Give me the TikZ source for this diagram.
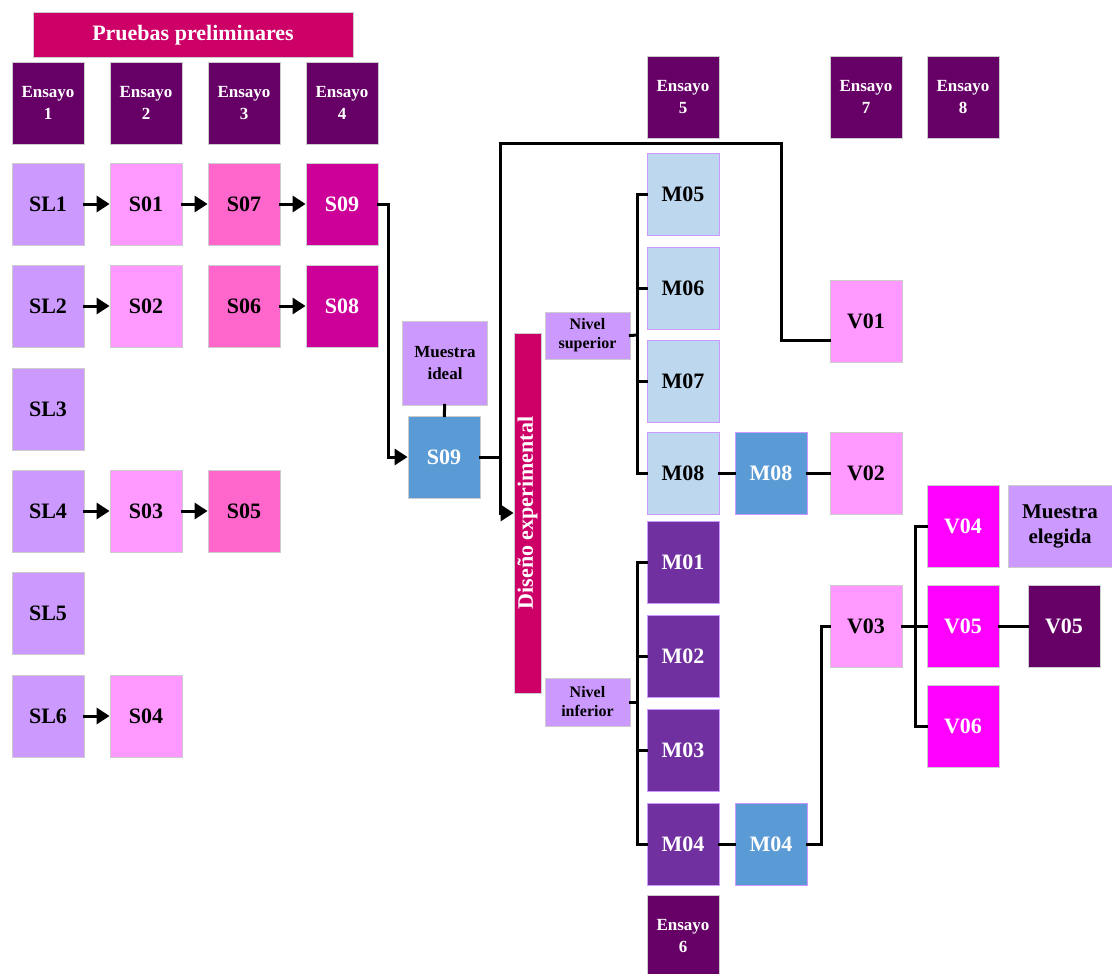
\documentclass[tikz,border=0pt]{standalone}
\usepackage{fontspec}
\setmainfont{Liberation Serif}
\usetikzlibrary{arrows.meta}

% Colores
\definecolor{carmin}{HTML}{CC0066}
\definecolor{uva}{HTML}{660066}
\definecolor{lila}{HTML}{CC99FF}
\definecolor{rosaclaro}{HTML}{FF99FF}
\definecolor{rosa}{HTML}{FF66CC}
\definecolor{fucsia}{HTML}{CC0099}
\definecolor{azul}{HTML}{5B9BD5}
\definecolor{celeste}{HTML}{BDD7EE}
\definecolor{violeta}{HTML}{7030A0}
\definecolor{magenta2}{HTML}{FF00FF}

\tikzset{
  caja/.style={draw=black!20, line width=0.8pt, minimum width=72pt, minimum height=82pt,
    inner sep=1pt, align=center, font=\bfseries\fontsize{22}{24}\selectfont},
  ensayo/.style={caja, fill=uva, text=white, font=\bfseries\fontsize{17}{22}\selectfont},
  mcaja/.style={caja, draw=lila},
  linea/.style={line width=3pt, line cap=rect},
  flecha/.style={linea, -{Triangle[length=13pt,width=16pt]}}
}

\begin{document}
\begin{tikzpicture}[x=1pt, y=-1pt]
    \useasboundingbox (0,0) rectangle (1112,974);

    % Pruebas preliminares
    \node[caja, fill=carmin, text=white, minimum width=320pt, minimum height=45pt] (prue) at (193,35) {Pruebas preliminares};
    \node[ensayo] (e1) at (48,103) {Ensayo\\1};
    \node[ensayo] (e2) at (146,103) {Ensayo\\2};
    \node[ensayo] (e3) at (244,103) {Ensayo\\3};
    \node[ensayo] (e4) at (342,103) {Ensayo\\4};

    % Fila 1
    \node[caja, fill=lila] (sl1) at (48,204) {SL1};
    \node[caja, fill=rosaclaro] (s01) at (146,204) {S01};
    \node[caja, fill=rosa] (s07) at (244,204) {S07};
    \node[caja, fill=fucsia, text=white] (s09) at (342,204) {S09};
    % Fila 2
    \node[caja, fill=lila] (sl2) at (48,306) {SL2};
    \node[caja, fill=rosaclaro] (s02) at (146,306) {S02};
    \node[caja, fill=rosa] (s06) at (244,306) {S06};
    \node[caja, fill=fucsia, text=white] (s08) at (342,306) {S08};
    % Filas 3 a 6
    \node[caja, fill=lila] (sl3) at (48,409) {SL3};
    \node[caja, fill=lila] (sl4) at (48,511) {SL4};
    \node[caja, fill=rosaclaro] (s03) at (146,511) {S03};
    \node[caja, fill=rosa] (s05) at (244,511) {S05};
    \node[caja, fill=lila] (sl5) at (48,613) {SL5};
    \node[caja, fill=lila] (sl6) at (48,716) {SL6};
    \node[caja, fill=rosaclaro] (s04) at (146,716) {S04};

    \draw[flecha] (sl1) -- (s01);
    \draw[flecha] (s01) -- (s07);
    \draw[flecha] (s07) -- (s09);
    \draw[flecha] (sl2) -- (s02);
    \draw[flecha] (s06) -- (s08);
    \draw[flecha] (sl4) -- (s03);
    \draw[flecha] (s03) -- (s05);
    \draw[flecha] (sl6) -- (s04);

    % Muestra ideal
    \node[caja, fill=lila, minimum width=85pt, minimum height=84pt, font=\bfseries\fontsize{17}{22}\selectfont] (ideal) at (445,363) {Muestra\\ideal};
    \node[caja, fill=azul, text=white] (s09b) at (444,457) {S09};
    \draw[flecha] (s09.east) -- ++(10,0) |- (s09b.west);
    \draw[linea] (ideal) -- (s09b);

    % Diseno experimental
    \node[caja, fill=carmin, text=white, minimum width=360pt, minimum height=27pt, rotate=90, font=\bfseries\fontsize{22}{24}\selectfont] (dis) at (527.5,513) {Diseño experimental};
    \coordinate (j1) at (500,457);
    \coordinate (arriba) at (781,143);
    \draw[linea] (s09b.east) -- (j1);
    \draw[flecha] (j1) |- (dis.north);

    % Ensayos 5, 7 y 8
    \node[ensayo] (e5) at (683,97) {Ensayo\\5};
    \node[ensayo] (e7) at (866,97) {Ensayo\\7};
    \node[ensayo] (e8) at (963,97) {Ensayo\\8};

    % Nivel superior
    \node[caja, fill=lila, minimum width=85pt, minimum height=47pt, font=\bfseries\fontsize{16}{19}\selectfont] (nsup) at (587.5,335.5) {Nivel\\superior};
    \node[mcaja, fill=celeste] (m05) at (683,194) {M05};
    \node[mcaja, fill=celeste] (m06) at (683,288) {M06};
    \node[mcaja, fill=celeste] (m07) at (683,381) {M07};
    \node[mcaja, fill=celeste] (m08) at (683,473) {M08};
    \node[mcaja, fill=azul, text=white] (m08b) at (771,473) {M08};
    \node[caja, fill=rosaclaro] (v01) at (866,321) {V01};
    \node[caja, fill=rosaclaro] (v02) at (866,473) {V02};
    \draw[linea] (j1) |- (arriba) |- ([yshift=-19pt]v01.west);
    \coordinate (bs) at (637,335);
    \draw[linea] (nsup.east) -- (bs);
    \foreach \m in {m05,m06,m07,m08}
        \draw[linea] (bs) |- (\m.west);
    \draw[linea] (m08) -- (m08b) -- (v02);

    % Nivel inferior
    \node[caja, fill=lila, minimum width=85pt, minimum height=48pt, font=\bfseries\fontsize{16}{19}\selectfont] (ninf) at (587.5,702) {Nivel\\inferior};
    \node[mcaja, fill=violeta, text=white] (m01) at (683,562) {M01};
    \node[mcaja, fill=violeta, text=white] (m02) at (683,656) {M02};
    \node[mcaja, fill=violeta, text=white] (m03) at (683,750) {M03};
    \node[mcaja, fill=violeta, text=white] (m04) at (683,844) {M04};
    \node[mcaja, fill=azul, text=white] (m04b) at (771,844) {M04};
    \node[ensayo] (e6) at (683,936) {Ensayo\\6};
    \coordinate (bi) at (637,702);
    \draw[linea] (ninf.east) -- (bi);
    \foreach \m in {m01,m02,m03,m04}
        \draw[linea] (bi) |- (\m.west);
    \draw[linea] (m04) -- (m04b);

    % Rama V03
    \node[caja, fill=rosaclaro] (v03) at (866,626) {V03};
    \node[caja, fill=magenta2, text=white] (v04) at (963,526) {V04};
    \node[caja, fill=magenta2, text=white] (v05) at (963,626) {V05};
    \node[caja, fill=magenta2, text=white] (v06) at (963,726) {V06};
    \node[caja, fill=uva, text=white] (v05b) at (1064,626) {V05};
    \node[caja, fill=lila, minimum width=104pt, font=\bfseries\fontsize{21}{25}\selectfont] (elegida) at (1060,526) {Muestra\\elegida};
    \draw[linea] (m04b.east) -- ++(14,0) |- (v03.west);
    \coordinate (bv) at (915,626);
    \draw[linea] (v03.east) -- (bv);
    \foreach \v in {v04,v05,v06}
        \draw[linea] (bv) |- (\v.west);
    \draw[linea] (v05) -- (v05b);
\end{tikzpicture}
\end{document}
